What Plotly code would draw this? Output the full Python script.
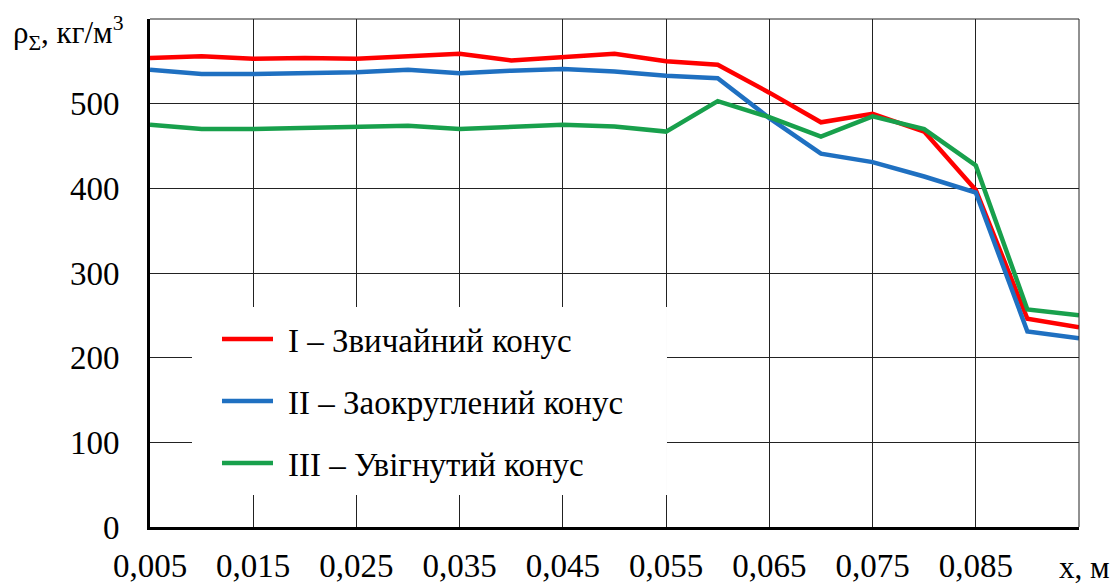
import plotly.graph_objects as go

# ---- data ----
x_vals = [0.005, 0.010, 0.015, 0.020, 0.025, 0.030, 0.035, 0.040, 0.045, 0.050,
          0.055, 0.060, 0.065, 0.070, 0.075, 0.080, 0.085, 0.090, 0.095]
cone_plain = [554, 556, 553, 554, 553, 556, 559, 551, 555, 559,
              550, 546, 513, 478, 488, 467, 398, 246, 236]
cone_round = [540, 535, 535, 536, 537, 540, 536, 539, 541, 538,
              533, 530, 483, 441, 431, 414, 395, 231, 223]
cone_concave = [475, 470, 470, 471, 472, 474, 470, 473, 475, 473,
                467, 503, 484, 461, 485, 470, 427, 257, 250]
series_names = ["I – Звичайний конус", "II – Заокруглений конус", "III – Увігнутий конус"]
series_colors = ["#FF0000", "#1F70C1", "#18A04C"]

x_tickvals = [0.005, 0.015, 0.025, 0.035, 0.045, 0.055, 0.065, 0.075, 0.085]
x_ticktext = ["0,005", "0,015", "0,025", "0,035", "0,045", "0,055", "0,065", "0,075", "0,085"]
y_tickvals = [0, 100, 200, 300, 400, 500]

FONT = "Liberation Serif"

fig = go.Figure()
for name, vals, col in zip(series_names, [cone_plain, cone_round, cone_concave], series_colors):
    fig.add_trace(go.Scatter(x=x_vals, y=vals, mode="lines", name=name,
                             showlegend=False,
                             line=dict(color=col, width=4.5)))

grid_col = "#222222"

# legend drawn as a key box inside the plot (paper coordinates)
key_rows_y = [0.3703, 0.2482, 0.1261]
key_shapes = []
key_texts = []
for name, col, yy in zip(series_names, series_colors, key_rows_y):
    key_shapes.append(dict(type="line", xref="paper", yref="paper",
                           x0=0.0775, x1=0.1324, y0=yy, y1=yy, layer="above",
                           line=dict(color=col, width=4.5)))
    key_texts.append(dict(text=name, xref="paper", yref="paper",
                          x=0.1475, y=yy - 0.004, xanchor="left", yanchor="middle",
                          showarrow=False, borderpad=0,
                          font=dict(family=FONT, size=33, color="black")))

fig.update_layout(
    template="none",
    width=1118, height=584, autosize=False,
    margin=dict(l=150, r=39, t=19, b=57),
    paper_bgcolor="white", plot_bgcolor="white",
    font=dict(family=FONT, size=33, color="black"),
    showlegend=False,
    xaxis=dict(range=[0.005, 0.095], tickvals=x_tickvals, ticktext=x_ticktext,
               showgrid=True, gridcolor=grid_col, gridwidth=1,
               showline=True, linecolor="black", linewidth=3,
               ticks="", ticklabelstandoff=7, zeroline=False, automargin=False,
               tickfont=dict(family=FONT, size=33, color="black")),
    yaxis=dict(range=[0, 600], tickvals=y_tickvals,
               showgrid=True, gridcolor=grid_col, gridwidth=1,
               showline=True, linecolor="black", linewidth=3,
               ticks="", ticklabelstandoff=21, zeroline=False, automargin=False,
               tickfont=dict(family=FONT, size=33, color="black")),
    shapes=[
        # top and right frame lines
        dict(type="line", xref="paper", yref="paper", x0=0, x1=1, y0=1, y1=1,
             line=dict(color=grid_col, width=1)),
        dict(type="line", xref="paper", yref="paper", x0=1, x1=1, y0=0, y1=1,
             line=dict(color=grid_col, width=1)),
        # white key background
        dict(type="rect", xref="paper", yref="paper", x0=0.0452, x1=0.5565,
             y0=0.063, y1=0.4333, fillcolor="white", line=dict(width=0),
             layer="above"),
    ] + key_shapes,
    annotations=[
        dict(text="ρ<sub>Σ</sub>, кг/м<sup>3</sup>", xref="paper", yref="paper",
             x=-0.088, y=0.972, xanchor="center", yanchor="middle",
             showarrow=False, font=dict(family=FONT, size=31, color="black")),
        dict(text="x, м", xref="paper", yref="paper",
             x=1.0355, y=-0.079, xanchor="right", yanchor="middle",
             showarrow=False, font=dict(family=FONT, size=31, color="black")),
    ] + key_texts,
)

fig.write_html("out.html")
